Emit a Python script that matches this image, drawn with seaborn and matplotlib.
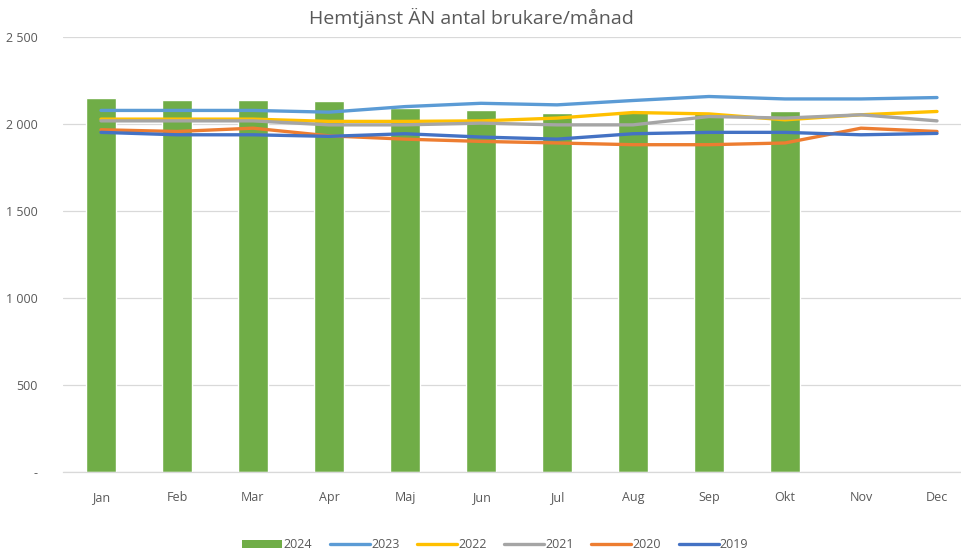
import numpy as np
import pandas as pd
import matplotlib
matplotlib.use("Agg")
import matplotlib.pyplot as plt
import seaborn as sns
from matplotlib.patches import Patch
from matplotlib.lines import Line2D

months = ["Jan", "Feb", "Mar", "Apr", "Maj", "Jun", "Jul", "Aug", "Sep", "Okt", "Nov", "Dec"]

# 2024 only up to October
bars_2024 = [2150, 2139, 2139, 2131, 2093, 2081, 2066, 2072, 2066, 2074]

y2023 = [2078, 2078, 2078, 2068, 2100, 2119, 2110, 2135, 2158, 2144, 2144, 2152]
y2022 = [2028, 2028, 2028, 2015, 2015, 2018, 2034, 2066, 2058, 2024, 2053, 2072]
y2021 = [2018, 2018, 2018, 1995, 1995, 2005, 1995, 1995, 2043, 2034, 2053, 2018]
y2020 = [1967, 1957, 1976, 1932, 1913, 1900, 1891, 1881, 1881, 1891, 1976, 1957]
y2019 = [1952, 1938, 1938, 1929, 1944, 1925, 1913, 1944, 1952, 1952, 1938, 1946]

line_years = ["2023", "2022", "2021", "2020", "2019"]
line_values = [y2023, y2022, y2021, y2020, y2019]
line_colors = ["#5B9BD5", "#FFC000", "#A5A5A5", "#ED7D31", "#4472C4"]
bar_color = "#70AD47"

y_ticks = [0, 500, 1000, 1500, 2000, 2500]
y_labels = ["-", "1 000", "1 500", "2 000", "2 500"]
y_labels = ["-", "500", "1 000", "1 500", "2 000", "2 500"]

sns.set_style("white")
plt.rcParams["font.family"] = ["Open Sans", "DejaVu Sans"]

fig = plt.figure(figsize=(9.62, 5.56), dpi=100)
ax = fig.add_axes([63 / 962, 84 / 556, 912 / 962, 435 / 556])

bar_df = pd.DataFrame({"month": months[:len(bars_2024)], "value": bars_2024})
sns.barplot(data=bar_df, x="month", y="value", order=months, color=bar_color,
            width=0.4, saturation=1, ax=ax, zorder=2)

# lines drawn on the category positions of the bar chart
line_df = pd.DataFrame({
    "pos": np.tile(np.arange(len(months)), len(line_years)),
    "value": np.concatenate(line_values),
    "year": np.repeat(line_years, len(months)),
})
sns.lineplot(data=line_df, x="pos", y="value", hue="year", hue_order=line_years,
             palette=line_colors, linewidth=2.4, ax=ax, legend=False, zorder=3)

ax.set_xlim(-0.5, 11.5)
ax.set_ylim(0, 2500)
ax.set_yticks(y_ticks)
ax.set_yticklabels(y_labels)
ax.set_xticks(range(len(months)))
ax.set_xticklabels(months)
ax.set_xlabel("")
ax.set_ylabel("")
ax.grid(axis="y", color="#D9D9D9", linewidth=0.9, zorder=0)
ax.set_axisbelow(True)
for s in ["top", "right", "left"]:
    ax.spines[s].set_visible(False)
ax.spines["bottom"].set_color("#D9D9D9")
ax.spines["bottom"].set_linewidth(0.9)
ax.tick_params(axis="both", length=0, labelsize=9, labelcolor="#595959")
ax.tick_params(axis="x", pad=14)
ax.tick_params(axis="y", pad=18)

fig.suptitle("Hemtjänst ÄN antal brukare/månad", x=0.49, y=0.985, fontsize=14,
             color="#595959")

handles = [Patch(facecolor=bar_color, edgecolor="none")]
handles += [Line2D([0], [0], color=c, linewidth=2.4) for c in line_colors]
labels = ["2024"] + line_years
fig.legend(handles, labels, loc="center", bbox_to_anchor=(0.515, 0.02), ncol=6,
           frameon=False, fontsize=9, labelcolor="#595959", handlelength=3.2,
           handleheight=0.6, handletextpad=0.1, columnspacing=1.4)

fig.savefig("out.png", dpi=100)
